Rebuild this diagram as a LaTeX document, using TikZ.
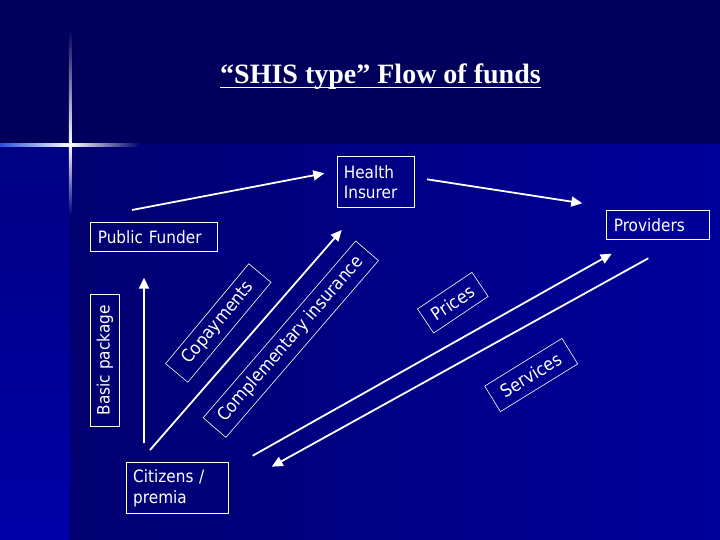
\documentclass[tikz,border=0pt]{standalone}
\usepackage{fontspec}
\usepackage{tikz}
\usetikzlibrary{arrows.meta}

\newfontfamily\boxfont[FakeStretch=0.9]{DejaVu Sans}
\newfontfamily\titlefont{Liberation Serif}

\definecolor{navytop}{RGB}{0,0,92}
\definecolor{striptop}{RGB}{0,0,130}
\definecolor{stripbot}{RGB}{0,0,168}
\definecolor{mainleft}{RGB}{0,0,112}
\definecolor{mainright}{RGB}{0,0,155}
\definecolor{flare}{RGB}{40,80,220}

\begin{document}
\begin{tikzpicture}[x=1bp, y=-1bp,
    box/.style={draw=white, line width=1bp, text=white, anchor=north west,
      font=\boxfont\fontsize{17bp}{20.7bp}\selectfont, align=left, inner ysep=0pt},
    tag/.style={draw=white, line width=0.6bp, text=white, inner sep=0pt,
      font=\boxfont\fontsize{17.8bp}{20bp}\selectfont, minimum height=29bp},
    flow/.style={white, line width=1.8bp, -{Triangle[length=11bp,width=10bp]}}]
    \useasboundingbox (0,0) rectangle (720,540);

    % Background
    \fill[navytop] (0,0) rectangle (720,145);
    \shade[top color=striptop, bottom color=stripbot] (0,145) rectangle (70,540);
    \shade[left color=mainleft, right color=mainright] (70,145) rectangle (720,540);

    % Light flare
    \shade[left color=flare, right color=mainleft, middle color=white] (0,143.8) rectangle (140,146.4);
    \shade[top color=navytop, bottom color=white] (68.8,30) rectangle (71.4,145);
    \shade[top color=white, bottom color=striptop] (68.8,145) rectangle (71.4,215);

    % Title
    \node[font=\titlefont\fontsize{28bp}{30bp}\selectfont\bfseries, text=white,
      anchor=base, inner sep=0pt] (title) at (380.5,83.3) {“SHIS type” Flow of funds};
    \draw[white, line width=1.5bp] ([shift={(0,4.2)}]title.base west) -- ([shift={(0,4.2)}]title.base east);

    % Actors
    \node[box, text width=64.4bp, inner xsep=6.6bp, minimum height=51.3bp] (insurer) at (336.7,156) {Health\\Insurer};
    \node[box, text width=112bp, inner xsep=7.3bp, minimum height=28.7bp] (funder) at (90,222.3) {Public Funder};
    \node[box, text width=88bp, inner xsep=7.3bp, minimum height=29bp] (providers) at (606,210.3) {Providers};
    \node[box, text width=89.2bp, inner xsep=6.4bp, minimum height=51bp] (citizens) at (126.3,462.3) {Citizens /\\premia};
    \node[box, anchor=center, rotate=90, inner sep=0pt, minimum width=131.7bp, minimum height=28.6bp] (basic) at (105,360.2) {Basic package};

    % Flows of funds
    \draw[flow] ([shift={(42,-12.3)}]funder.north west) -- ([shift={(-12.4,17.3)}]insurer.north west);
    \draw[flow] ([shift={(11.7,23.3)}]insurer.north east) -- ([shift={(-23.7,-7)}]providers.north west);
    \draw[flow] ([shift={(17.7,-19.3)}]citizens.north west) -- ([shift={(54,25.7)}]funder.south west);
    \draw[flow] ([shift={(23.7,-12.3)}]citizens.north west) -- ([shift={(5,21.7)}]insurer.south west);
    \draw[flow] ([shift={(23.4,-6.6)}]citizens.north east) -- ([shift={(5.7,13.4)}]providers.south west);
    \draw[flow] ([shift={(42.3,18)}]providers.south west) -- ([shift={(42.4,4.4)}]citizens.north east);

    % Labels on the flows
    \node[tag, rotate=50.2, minimum width=130bp] (copay) at (218.3,323) {Copayments};
    \node[tag, rotate=49.2, minimum width=233.5bp, minimum height=30bp] (compl) at (290.8,339.2) {Complementary insurance};
    \node[tag, rotate=33.9, minimum width=65.6bp] (prices) at (452.8,302.7) {Prices};
    \node[tag, rotate=31.7, minimum width=90.8bp, minimum height=30bp] (services) at (531.2,375) {Services};
\end{tikzpicture}
\end{document}
